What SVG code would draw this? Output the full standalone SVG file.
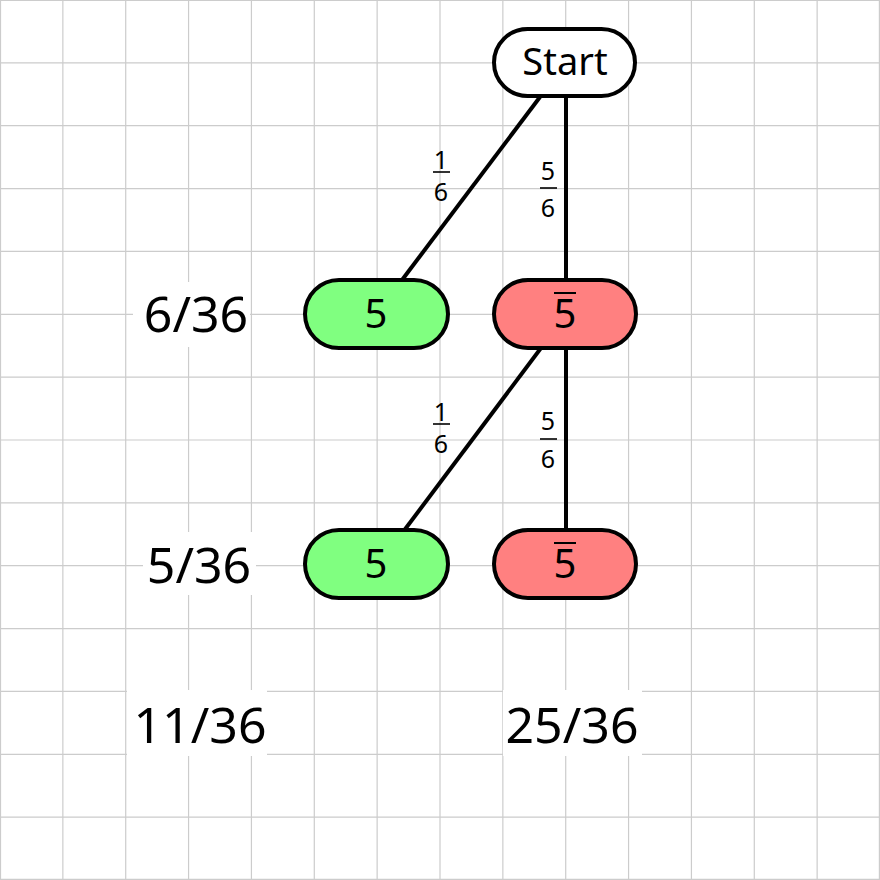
<svg xmlns="http://www.w3.org/2000/svg" width="880" height="880" viewBox="0 0 880 880">
<style>
.grid{stroke:#cccccc;stroke-width:1.2;fill:none}
.node{stroke:#000;stroke-width:4}
.t{font-family:"Noto Sans","Open Sans","DejaVu Sans",sans-serif;fill:#000;text-anchor:middle}
.big{font-size:50px}
.nl{font-size:40px}
.fr{font-size:25px}
.bar{stroke:#000;stroke-width:1.6}
.ov{stroke:#000;stroke-width:2}
.edge{stroke:#000;stroke-width:4;fill:none}
.bg{fill:#fff}
</style>
<rect width="880" height="880" fill="#fff"/>
<path class="grid" d="M0.5 0V880M62.86 0V880M125.71 0V880M188.57 0V880M251.43 0V880M314.29 0V880M377.14 0V880M440 0V880M502.86 0V880M565.71 0V880M628.57 0V880M691.43 0V880M754.29 0V880M817.14 0V880M879.4 0V880M0 0.5H880M0 62.86H880M0 125.71H880M0 188.57H880M0 251.43H880M0 314.29H880M0 377.14H880M0 440H880M0 502.86H880M0 565.71H880M0 628.57H880M0 691.43H880M0 754.29H880M0 817.14H880M0 879.4H880"/>
<g id="connectors">
<line class="edge" x1="540" y1="97" x2="402" y2="280"/>
<line class="edge" x1="566" y1="97" x2="566" y2="280"/>
<line class="edge" x1="541" y1="348" x2="403" y2="532"/>
<line class="edge" x1="566" y1="348" x2="566" y2="532"/>
<g id="p1">
<text class="t fr" x="441" y="169">1</text><line class="bar" x1="433" y1="172" x2="450" y2="172"/><text class="t fr" x="441" y="201">6</text>
</g>
<g id="p2">
<text class="t fr" x="548" y="180">5</text><line class="bar" x1="540" y1="188" x2="557" y2="188"/><text class="t fr" x="548" y="217">6</text>
</g>
<g id="p3">
<text class="t fr" x="441" y="421">1</text><line class="bar" x1="433" y1="424" x2="450" y2="424"/><text class="t fr" x="441" y="453">6</text>
</g>
<g id="p4">
<text class="t fr" x="548" y="430">5</text><line class="bar" x1="540" y1="439" x2="557" y2="439"/><text class="t fr" x="548" y="468">6</text>
</g>
</g>
<g id="start">
<rect class="node" x="494" y="29" width="141" height="67" rx="33.5" fill="#fff"/>
<text class="t" x="565" y="75" font-size="38">Start</text>
</g>
<g id="n1">
<rect class="node" x="305" y="280" width="143" height="68" rx="34" fill="#80ff80"/>
<text class="t nl" x="376" y="328">5</text>
</g>
<g id="n2">
<rect class="node" x="494" y="280" width="142" height="68" rx="34" fill="#ff8080"/>
<text class="t nl" x="565" y="328">5</text>
<line class="ov" x1="554" y1="293" x2="576" y2="293"/>
</g>
<g id="n3">
<rect class="node" x="305" y="530" width="143" height="68" rx="34" fill="#80ff80"/>
<text class="t nl" x="376" y="578">5</text>
</g>
<g id="n4">
<rect class="node" x="494" y="530" width="142" height="68" rx="34" fill="#ff8080"/>
<text class="t nl" x="565" y="578">5</text>
<line class="ov" x1="554" y1="543" x2="576" y2="543"/>
</g>
<g id="l1">
<rect class="bg" x="133" y="282" width="117" height="65"/>
<text class="t big" x="196" y="332">6/36</text>
</g>
<g id="l2">
<rect class="bg" x="143" y="532" width="113" height="63"/>
<text class="t big" x="199" y="583">5/36</text>
</g>
<g id="l3">
<rect class="bg" x="127" y="690" width="140" height="66"/>
<text class="t big" x="200" y="743">11/36</text>
</g>
<g id="l4">
<rect class="bg" x="503" y="690" width="139" height="66"/>
<text class="t big" x="572" y="743">25/36</text>
</g>
</svg>
